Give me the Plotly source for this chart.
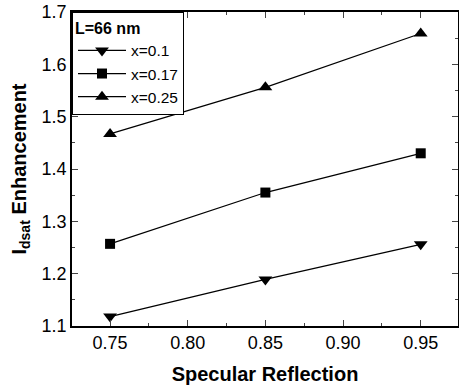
import plotly.graph_objects as go

specular = [0.75, 0.85, 0.95]
x01 = [1.118, 1.189, 1.256]
x017 = [1.257, 1.355, 1.430]
x025 = [1.467, 1.556, 1.659]
series = [("x=0.1", x01, "triangle-down", 12), ("x=0.17", x017, "square", 10), ("x=0.25", x025, "triangle-up", 12)]

fig = go.Figure()
for name, vals, sym, sz in series:
    fig.add_trace(go.Scatter(x=specular, y=vals, name=name, mode="lines+markers",
                             line=dict(color="black", width=1.2),
                             marker=dict(symbol=sym, size=sz, color="black")))

font = "Liberation Sans, Arial, sans-serif"
fig.update_layout(
    width=459, height=392,
    margin=dict(l=72, r=1, t=12, b=66, autoexpand=False),
    plot_bgcolor="white", paper_bgcolor="white",
    font=dict(family=font, size=18, color="black"),
    legend=dict(x=0, y=1, xanchor="left", yanchor="top",
                bordercolor="black", borderwidth=1, bgcolor="white",
                title=dict(text="<b>L=66 nm</b>", font=dict(size=16)),
                font=dict(size=15.5), itemwidth=48, tracegroupgap=0),
    xaxis=dict(range=[0.7255, 0.974], tickvals=[0.75, 0.80, 0.85, 0.90, 0.95],
               ticktext=["0.75", "0.80", "0.85", "0.90", "0.95"],
               ticks="inside", ticklen=6, tickwidth=1, mirror="ticks", automargin=False,
               showline=True, linecolor="black", linewidth=1.5, showgrid=False, zeroline=False,
               minor=dict(ticks="inside", ticklen=3, tickvals=[0.775, 0.825, 0.875, 0.925]),
               title=dict(text="<b>Specular Reflection</b>", font=dict(size=20), standoff=15)),
    yaxis=dict(range=[1.1, 1.7], dtick=0.1, tickformat=".1f",
               ticks="inside", ticklen=6, tickwidth=1, mirror="ticks", automargin=False,
               showline=True, linecolor="black", linewidth=1.5, showgrid=False, zeroline=False,
               minor=dict(ticks="inside", ticklen=3, dtick=0.05),
               title=dict(text="<b>I<sub>dsat</sub> Enhancement</b>", font=dict(size=20), standoff=10)),
)
fig.write_html("out.html", config={"displayModeBar": False},
               post_script="document.body.style.margin='0';")
